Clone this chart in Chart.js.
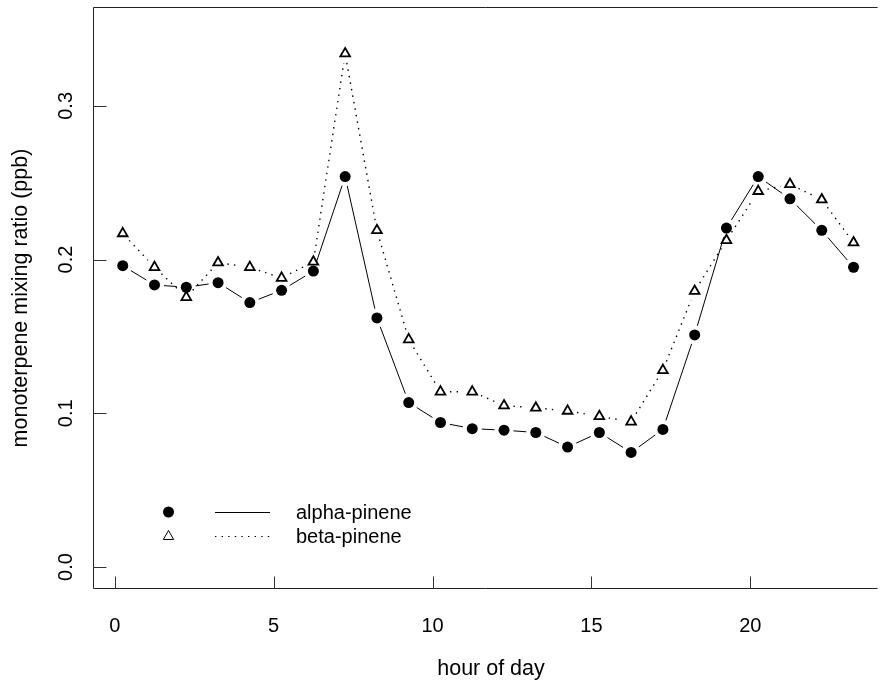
<!DOCTYPE html>
<html>
<head>
<meta charset="utf-8">
<script src="https://cdn.jsdelivr.net/npm/chart.js@4/dist/chart.umd.min.js"></script>
<style>
  html, body { margin: 0; padding: 0; background: #fff; overflow: hidden; }
  #wrap { width: 880px; height: 685px; position: relative; }
  canvas { display: block; }
</style>
</head>
<body>
<div id="wrap"><canvas id="c" width="880" height="685" style="width:880px;height:685px"></canvas></div>
<script>
// ---- data ----
const hours = [0.25, 1.25, 2.25, 3.25, 4.25, 5.25, 6.25, 7.25, 8.25, 9.25, 10.25, 11.25,
               12.25, 13.25, 14.25, 15.25, 16.25, 17.25, 18.25, 19.25, 20.25, 21.25, 22.25, 23.25];
const alphaPinene = [0.196, 0.1835, 0.182, 0.185, 0.172, 0.180, 0.1925, 0.254, 0.162, 0.107, 0.094, 0.090,
                     0.089, 0.0875, 0.078, 0.0875, 0.0745, 0.0895, 0.151, 0.2205, 0.254, 0.2395, 0.219, 0.195];
const betaPinene = [0.217, 0.195, 0.1755, 0.198, 0.195, 0.188, 0.1985, 0.334, 0.219, 0.148, 0.114, 0.114,
                    0.105, 0.1035, 0.1015, 0.098, 0.0945, 0.128, 0.1795, 0.2125, 0.2445, 0.249, 0.239, 0.211];
const seriesNames = ["alpha-pinene", "beta-pinene"];
const xTicks = [0, 5, 10, 15, 20];
const yTicks = [0.0, 0.1, 0.2, 0.3];
const yTickLabels = ["0.0", "0.1", "0.2", "0.3"];
const xTitle = "hour of day";
const yTitle = "monoterpene mixing ratio (ppb)";

const FONT = '"Liberation Sans", Arial, Helvetica, sans-serif';
const TICK_FONT = '20px ' + FONT;
const TITLE_FONT = '21.5px ' + FONT;

function toPoints(xs, ys) { return xs.map((x, i) => ({ x: x, y: ys[i] })); }

// Lines with gaps around the symbols (R type = "b")
const gapLines = {
  id: 'gapLines',
  beforeDatasetsDraw(chart) {
    const ctx = chart.ctx;
    const GAP = 9.5;
    chart.data.datasets.forEach((ds, di) => {
      const meta = chart.getDatasetMeta(di);
      const pts = meta.data;
      ctx.save();
      ctx.beginPath();
      ctx.rect(chart.chartArea.left, chart.chartArea.top,
               chart.chartArea.right - chart.chartArea.left, chart.chartArea.bottom - chart.chartArea.top);
      ctx.clip();
      ctx.strokeStyle = '#000';
      if (ds.rDotted) { ctx.lineWidth = 1.4; ctx.setLineDash([1.4, 5.2]); ctx.lineCap = 'butt'; }
      else { ctx.lineWidth = 1; ctx.setLineDash([]); }
      for (let i = 0; i < pts.length - 1; i++) {
        const a = pts[i], b = pts[i + 1];
        const dx = b.x - a.x, dy = b.y - a.y;
        const d = Math.hypot(dx, dy);
        if (d <= 2 * GAP) continue;
        const ux = dx / d, uy = dy / d;
        ctx.beginPath();
        ctx.moveTo(a.x + ux * GAP, a.y + uy * GAP);
        ctx.lineTo(b.x - ux * GAP, b.y - uy * GAP);
        ctx.stroke();
      }
      ctx.restore();
    });
  }
};

// R-style frame, inward ticks, labels, titles and legend
const rAxes = {
  id: 'rAxes',
  afterDraw(chart) {
    const ctx = chart.ctx;
    const xs = chart.scales.x, ys = chart.scales.y;
    const ca = chart.chartArea;
    ctx.save();
    ctx.strokeStyle = '#222';
    ctx.lineWidth = 1;
    ctx.setLineDash([]);
    // frame (right side lies beyond the picture)
    ctx.beginPath();
    ctx.moveTo(ca.right + 5, ca.top);
    ctx.lineTo(ca.left, ca.top);
    ctx.lineTo(ca.left, ca.bottom);
    ctx.lineTo(ca.right + 5, ca.bottom);
    ctx.stroke();
    // x ticks (inward)
    ctx.strokeStyle = '#333';
    xTicks.forEach(v => {
      const px = Math.round(xs.getPixelForValue(v)) + 0.5;
      ctx.beginPath();
      ctx.moveTo(px, ca.bottom);
      ctx.lineTo(px, ca.bottom - 12);
      ctx.stroke();
    });
    yTicks.forEach(v => {
      const py = Math.round(ys.getPixelForValue(v)) + 0.5;
      ctx.beginPath();
      ctx.moveTo(ca.left, py);
      ctx.lineTo(ca.left + 13, py);
      ctx.stroke();
    });
    // tick labels
    ctx.fillStyle = '#000';
    ctx.font = TICK_FONT;
    ctx.textAlign = 'center';
    ctx.textBaseline = 'alphabetic';
    xTicks.forEach(v => {
      ctx.fillText(String(v), xs.getPixelForValue(v), 632);
    });
    yTicks.forEach((v, i) => {
      ctx.save();
      ctx.translate(72, ys.getPixelForValue(v));
      ctx.rotate(-Math.PI / 2);
      ctx.fillText(yTickLabels[i], 0, 0);
      ctx.restore();
    });
    // axis titles
    ctx.font = TITLE_FONT;
    ctx.fillText(xTitle, 491, 675);
    ctx.save();
    ctx.translate(27, (ca.top + ca.bottom) / 2);
    ctx.rotate(-Math.PI / 2);
    ctx.fillText(yTitle, 0, 0);
    ctx.restore();
    // legend
    const lx = 168.5, ly1 = 512, ly2 = 536.5;
    ctx.fillStyle = '#000';
    ctx.beginPath();
    ctx.arc(lx, ly1, 5.5, 0, Math.PI * 2);
    ctx.fill();
    ctx.beginPath();
    const r = 6;
    ctx.moveTo(lx, ly2 - r);
    ctx.lineTo(lx + r * Math.sin(2 * Math.PI / 3), ly2 + r / 2);
    ctx.lineTo(lx - r * Math.sin(2 * Math.PI / 3), ly2 + r / 2);
    ctx.closePath();
    ctx.strokeStyle = '#000';
    ctx.lineWidth = 1;
    ctx.stroke();
    ctx.beginPath();
    ctx.moveTo(215, ly1 + 0.5);
    ctx.lineTo(270, ly1 + 0.5);
    ctx.stroke();
    ctx.setLineDash([1.4, 5.2]);
    ctx.lineWidth = 1.2;
    ctx.beginPath();
    ctx.moveTo(215, ly2);
    ctx.lineTo(270, ly2);
    ctx.stroke();
    ctx.setLineDash([]);
    ctx.font = TICK_FONT;
    ctx.textAlign = 'left';
    ctx.textBaseline = 'middle';
    ctx.fillText(seriesNames[0], 296, ly1 + 1);
    ctx.fillText(seriesNames[1], 296, ly2 + 1);
    ctx.restore();
  }
};

new Chart(document.getElementById('c'), {
  type: 'scatter',
  data: {
    datasets: [
      {
        label: seriesNames[0],
        data: toPoints(hours, alphaPinene),
        showLine: false,
        pointStyle: 'circle',
        pointRadius: 5.5,
        pointBackgroundColor: '#000',
        pointBorderColor: '#000',
        pointBorderWidth: 0,
        rDotted: false
      },
      {
        label: seriesNames[1],
        data: toPoints(hours, betaPinene),
        showLine: false,
        pointStyle: 'triangle',
        pointRadius: 5.6,
        pointBackgroundColor: 'rgba(0,0,0,0)',
        pointBorderColor: '#000',
        pointBorderWidth: 1.8,
        rDotted: true
      }
    ]
  },
  options: {
    responsive: false,
    maintainAspectRatio: false,
    animation: false,
    devicePixelRatio: 1,
    layout: { padding: { left: 93.5, top: 7.5, right: 0, bottom: 96.5 } },
    plugins: { legend: { display: false }, tooltip: { enabled: false } },
    scales: {
      x: { type: 'linear', min: -0.67, max: 23.85, display: false },
      y: { type: 'linear', min: -0.014, max: 0.364, display: false }
    }
  },
  plugins: [gapLines, rAxes]
});
</script>
</body>
</html>
